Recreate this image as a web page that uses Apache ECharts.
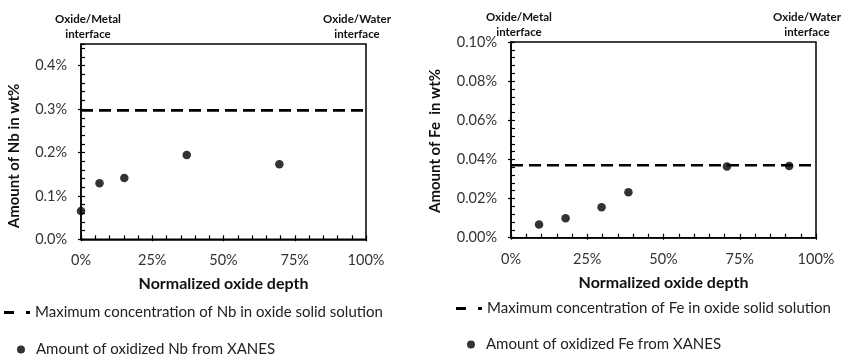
<!DOCTYPE html>
<html>
<head>
<meta charset="utf-8">
<script src="https://cdn.jsdelivr.net/npm/echarts@6/dist/echarts.min.js"></script>
<style>
html,body{margin:0;padding:0;background:#fff;}
#chart{width:843px;height:356px;}
</style>
</head>
<body>
<div id="chart"></div>
<script>
// ---- data ----
const depthTicks = [0, 25, 50, 75, 100];
const nbDepth = [0, 6.5, 15.2, 37.1, 69.6];
const nbXanes = [0.065, 0.129, 0.141, 0.194, 0.173];
const nbMaxDepth = [0, 100];
const nbMax = [0.297, 0.297];
const feDepth = [9.2, 17.9, 29.7, 38.5, 70.8, 91.2];
const feXanes = [0.0068, 0.0099, 0.0155, 0.0232, 0.0364, 0.0366];
const feMaxDepth = [0, 100];
const feMax = [0.037, 0.037];

const nbMaxName = 'Maximum concentration of Nb in oxide solid solution';
const nbXanesName = 'Amount of oxidized Nb from XANES';
const feMaxName = 'Maximum concentration of Fe in oxide solid solution';
const feXanesName = 'Amount of oxidized Fe from XANES';

const FONT = 'Lato';
const chart = echarts.init(document.getElementById('chart'), null, {renderer: 'canvas'});

function pairs(xs, ys) { return xs.map((x, i) => [x, ys[i]]); }

function xMain(g) {
  return {
    type: 'value', gridIndex: g, min: 0, max: 100, interval: 25, position: 'bottom',
    axisLine: {show: true, onZero: false, lineStyle: {color: '#000', width: 1.5}},
    axisTick: {show: true, length: 2, lineStyle: {color: '#000', width: 1.2}},
    axisLabel: {formatter: v => v + '%', margin: 14, fontSize: 14.5, color: '#333', fontFamily: FONT},
    splitLine: {show: false},
    name: 'Normalized oxide depth', nameLocation: 'middle', nameGap: 37,
    nameTextStyle: {fontWeight: 'bold', fontSize: 16, color: '#111', fontFamily: FONT}
  };
}
function xMinor(g) {
  return {
    type: 'value', gridIndex: g, min: 0, max: 100, interval: 5, position: 'bottom',
    axisLine: {show: false, onZero: false},
    axisTick: {show: true, inside: true, length: 4, lineStyle: {color: '#000', width: 1.2}},
    axisLabel: {show: false}, splitLine: {show: false}
  };
}
function yMain(g, max, interval, digits, showMax) {
  return {
    type: 'value', gridIndex: g, min: 0, max: max, interval: interval, position: 'left',
    axisLine: {show: true, onZero: false, lineStyle: {color: '#000', width: 1.5}},
    axisTick: {show: true, length: 3, lineStyle: {color: '#000', width: 1.2}},
    axisLabel: {formatter: v => v.toFixed(digits) + '%', margin: 14, fontSize: 14.5, color: '#333',
                fontFamily: FONT, showMaxLabel: showMax},
    splitLine: {show: false}
  };
}
function yMinor(g, max, interval) {
  return {
    type: 'value', gridIndex: g, min: 0, max: max, interval: interval, position: 'left',
    axisLine: {show: false, onZero: false},
    axisTick: {show: true, inside: true, length: 4, lineStyle: {color: '#000', width: 1.2}},
    axisLabel: {show: false}, splitLine: {show: false}
  };
}

const dashIcon = 'path://M0,0H10V3H0Z M22,0H26V3H22Z';
const dotIcon = 'path://M0,4A4,4 0 1,1 8,4A4,4 0 1,1 0,4Z M14,4L14.01,4';
const legendText = {fontSize: 15, color: '#222', fontFamily: FONT};

function annot(x, y, text) {
  return {type: 'text', x: x, y: y,
    style: {text: text, textAlign: 'center', textVerticalAlign: 'top', fill: '#111',
            font: 'bold 11.5px ' + FONT, lineHeight: 15}};
}
function yTitle(x, y, text) {
  return {type: 'text', x: x, y: y, rotation: Math.PI / 2,
    style: {text: text, textAlign: 'center', textVerticalAlign: 'middle', fill: '#111',
            font: 'bold 15px ' + FONT}};
}

chart.setOption({
  backgroundColor: '#fff',
  animation: false,
  grid: [
    {left: 81, top: 44, width: 285, height: 195.3, show: true, borderColor: '#000', borderWidth: 1.5, containLabel: false},
    {left: 511, top: 42, width: 305, height: 195.7, show: true, borderColor: '#000', borderWidth: 1.5, containLabel: false}
  ],
  xAxis: [xMain(0), xMinor(0), xMain(1), xMinor(1)],
  yAxis: [yMain(0, 0.45, 0.1, 1, false), yMinor(0, 0.45, 0.02), yMain(1, 0.1, 0.02, 2, true), yMinor(1, 0.1, 0.004)],
  legend: [
    {left: -1, top: 300, orient: 'vertical', data: [{name: nbMaxName, icon: dashIcon}],
     itemWidth: 26, itemHeight: 3, textStyle: legendText, selectedMode: false},
    {left: 12, top: 337, orient: 'vertical', data: [{name: nbXanesName, icon: dotIcon}],
     itemWidth: 14, itemHeight: 8, textStyle: legendText, selectedMode: false},
    {left: 451, top: 296, orient: 'vertical', data: [{name: feMaxName, icon: dashIcon}],
     itemWidth: 26, itemHeight: 3, textStyle: legendText, selectedMode: false},
    {left: 462, top: 332, orient: 'vertical', data: [{name: feXanesName, icon: dotIcon}],
     itemWidth: 14, itemHeight: 8, textStyle: legendText, selectedMode: false}
  ],
  graphic: [
    annot(88, 12, 'Oxide/Metal\ninterface'),
    annot(357, 12, 'Oxide/Water\ninterface'),
    annot(519, 10, 'Oxide/Metal\ninterface'),
    annot(807, 10, 'Oxide/Water\ninterface'),
    yTitle(14, 156, 'Amount of Nb in wt%'),
    yTitle(435, 141, 'Amount of Fe  in wt%')
  ],
  series: [
    {name: nbMaxName, type: 'line', xAxisIndex: 0, yAxisIndex: 0, data: pairs(nbMaxDepth, nbMax),
     showSymbol: false, symbol: 'none', color: '#000',
     lineStyle: {color: '#000', width: 2.6, type: [12, 6]}, z: 3},
    {name: nbXanesName, type: 'scatter', xAxisIndex: 0, yAxisIndex: 0, data: pairs(nbDepth, nbXanes),
     symbol: 'circle', symbolSize: 8.5, color: '#000', itemStyle: {color: '#000'}, clip: false, z: 4},
    {name: feMaxName, type: 'line', xAxisIndex: 2, yAxisIndex: 2, data: pairs(feMaxDepth, feMax),
     showSymbol: false, symbol: 'none', color: '#000',
     lineStyle: {color: '#000', width: 2.6, type: [12, 6]}, z: 3},
    {name: feXanesName, type: 'scatter', xAxisIndex: 2, yAxisIndex: 2, data: pairs(feDepth, feXanes),
     symbol: 'circle', symbolSize: 8.5, color: '#000', itemStyle: {color: '#000'}, clip: false, z: 4}
  ]
});
</script>
</body>
</html>
